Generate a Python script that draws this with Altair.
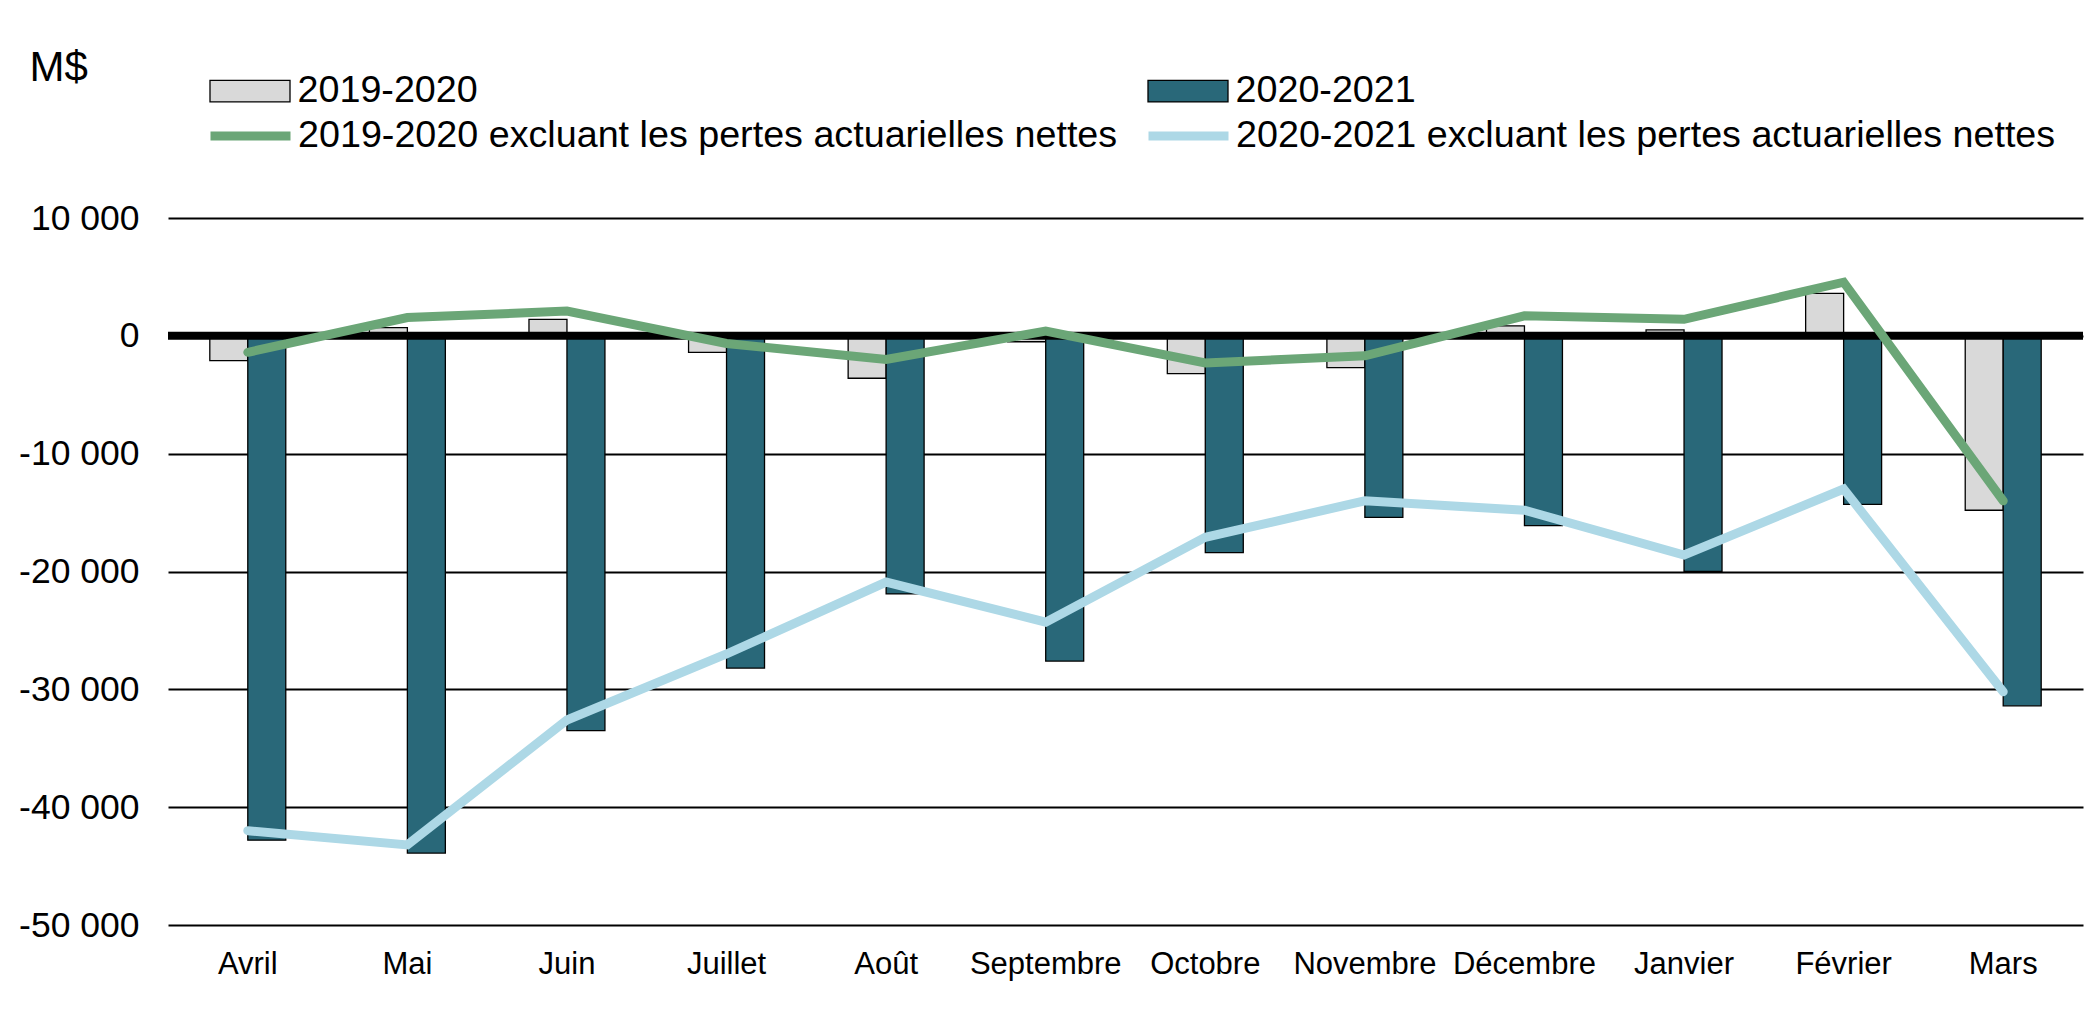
import altair as alt
import pandas as pd

months = ["Avril", "Mai", "Juin", "Juillet", "Août", "Septembre", "Octobre",
          "Novembre", "Décembre", "Janvier", "Février", "Mars"]

bar_series = ["2019-2020", "2020-2021"]
line_series = ["2019-2020 excluant les pertes actuarielles nettes",
               "2020-2021 excluant les pertes actuarielles nettes"]

bars_2019 = [-2100, 700, 1400, -1400, -3600, -500, -3200, -2700, 850, 500, 3600, -14800]
bars_2020 = [-42800, -43900, -33500, -28200, -21900, -27600, -18400, -15400, -16100, -20000, -14300, -31400]
line_2019 = [-1400, 1550, 2100, -650, -2000, 400, -2300, -1700, 1700, 1400, 4550, -14000]
line_2020 = [-42000, -43200, -32600, -27000, -20900, -24300, -17100, -14000, -14800, -18600, -13000, -30200]

y_ticks = [10000, 0, -10000, -20000, -30000, -40000, -50000]

rows_bar = []
for i, m in enumerate(months):
    rows_bar.append({"month": m, "series": bar_series[0], "value": bars_2019[i]})
    rows_bar.append({"month": m, "series": bar_series[1], "value": bars_2020[i]})
df_bar = pd.DataFrame(rows_bar)

rows_line = []
for i, m in enumerate(months):
    rows_line.append({"month": m, "series": line_series[0], "value": line_2019[i]})
    rows_line.append({"month": m, "series": line_series[1], "value": line_2020[i]})
df_line = pd.DataFrame(rows_line)

df_zero = pd.DataFrame({"zero": [0]})

FONT = "Liberation Sans"

x_scale = alt.Scale(paddingInner=0.524, paddingOuter=0.262)
y_scale = alt.Scale(domain=[-50000, 10000], nice=False, zero=False)

x_axis = alt.Axis(title=None, labelAngle=0, labelFontSize=31, labelColor="black",
                  labelFont=FONT, ticks=False, tickSize=0, domain=False,
                  labelPadding=24, grid=False, labelOverlap=False)

y_axis = alt.Axis(title="M$", values=y_ticks,
                  labelExpr="(datum.value < 0 ? '-' : '') + replace(format(abs(datum.value), ','), ',', ' ')",
                  labelFontSize=35.5, labelColor="black", labelFont=FONT,
                  ticks=False, tickSize=0, domain=False, labelPadding=29,
                  labelOverlap=False,
                  grid=True, gridColor="black", gridWidth=2, gridOpacity=1,
                  titleAngle=0, titleAlign="left", titleBaseline="alphabetic",
                  titleX=-139, titleY=-138, titleFontSize=42, titleFontWeight="normal",
                  titleColor="black", titleFont=FONT)

bar_legend = alt.Legend(orient="none", legendX=41, legendY=-168, direction="horizontal",
                        columns=2, columnPadding=667, title=None,
                        labelFontSize=37.7, labelFont=FONT, labelColor="black",
                        labelLimit=3000, labelOffset=6.5,
                        symbolType="M-1,-0.27L1,-0.27L1,0.27L-1,0.27Z",
                        symbolSize=6400, symbolStrokeColor="black",
                        symbolStrokeWidth=1.3, symbolOpacity=1, padding=0)

line_legend = alt.Legend(orient="none", legendX=38, legendY=-127, direction="horizontal",
                         columns=2, columnPadding=12, title=None,
                         labelFontSize=37.7, labelFont=FONT, labelColor="black",
                         labelLimit=3000, labelOffset=3,
                         symbolType="M-1,0L1,0", symbolSize=6400,
                         symbolStrokeWidth=9, symbolOpacity=1, padding=0)

bars = alt.Chart(df_bar).mark_bar(stroke="black", strokeWidth=1.3).encode(
    x=alt.X("month:N", sort=months, scale=x_scale, axis=x_axis),
    xOffset=alt.XOffset("series:N", sort=bar_series, scale=alt.Scale(domain=bar_series)),
    y=alt.Y("value:Q", scale=y_scale, axis=y_axis),
    fill=alt.Fill("series:N", scale=alt.Scale(domain=bar_series, range=["#D9D9D9", "#296879"]),
                  legend=bar_legend),
)

zero = alt.Chart(df_zero).mark_rule(color="black", strokeWidth=8).encode(
    y=alt.Y("zero:Q", scale=y_scale, axis=y_axis),
)

lines = alt.Chart(df_line).mark_line(strokeWidth=9, strokeCap="round", strokeJoin="miter").encode(
    x=alt.X("month:N", sort=months, scale=x_scale, axis=x_axis),
    y=alt.Y("value:Q", scale=y_scale, axis=y_axis),
    stroke=alt.Stroke("series:N", scale=alt.Scale(domain=line_series, range=["#6BA677", "#ADD8E6"]),
                      legend=line_legend),
)

chart = alt.layer(bars, zero, lines).properties(
    width=1915, height=707,
    padding={"left": 160, "top": 210, "right": 5, "bottom": 70},
    autosize=alt.AutoSizeParams(type="none"),
).configure(font=FONT, view=alt.ViewConfig(stroke=None))

chart.save("out.html", embed_options={"renderer": "svg", "actions": False})
